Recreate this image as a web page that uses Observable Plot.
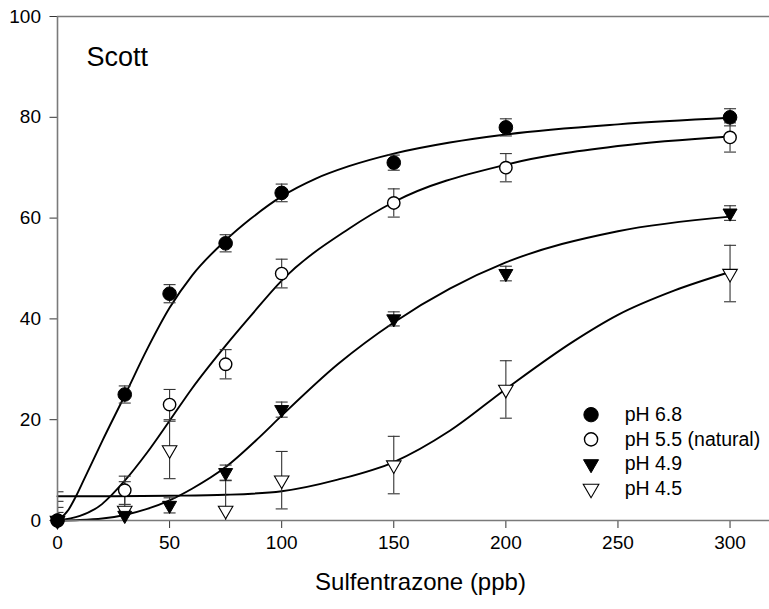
<!DOCTYPE html>
<html>
<head>
<meta charset="utf-8">
<script src="https://cdn.jsdelivr.net/npm/d3@7"></script>
<script src="https://cdn.jsdelivr.net/npm/@observablehq/plot@0.6"></script>
<style>
  html, body { margin: 0; padding: 0; background: #fff; }
  #chart { width: 769px; height: 609px; }
</style>
</head>
<body>
<div id="chart"></div>
<script>
// ---- data ----
const doses = [0, 30, 50, 75, 100, 150, 200, 300];
const seriesLabels = ["pH 6.8", "pH 5.5 (natural)", "pH 4.9", "pH 4.5"];

const ph68Mean = [0, 25, 45, 55, 65, 71, 78, 80];
const ph68Err  = [1.6, 1.7, 1.8, 1.7, 1.75, 1.5, 1.7, 1.7];
const ph55Mean = [0, 6, 23, 31, 49, 63, 70, 76];
const ph55Err  = [3.8, 2.8, 3.0, 2.9, 2.85, 2.8, 2.8, 2.9];
const ph49Mean = [0, 1, 3, 9.5, 22, 40, 49, 61];
const ph49Err  = [2.6, 1.0, 1.5, 1.5, 1.5, 1.4, 1.45, 1.45];
const ph45Mean = [0, 2, 14, 2, 8, 11, 26, 49];
const ph45Err  = [5.7, 5.7, 5.7, 5.9, 5.7, 5.7, 5.7, 5.6];

// fitted curves
const fit68X = [0, 5, 8, 12, 20, 30, 40, 50, 60, 75, 86, 100, 115, 130, 150, 175, 200, 250, 300];
const fit68Y = [0, 2.2, 4.6, 8.3, 15.8, 24.8, 34, 42.2, 48.6, 55.6, 59.8, 64.3, 67.8, 70.3, 72.8, 75, 76.6, 78.6, 79.9];
const fit55X = [0, 10, 20, 24, 30, 40, 50, 60, 75, 86, 100, 130, 150, 200, 250, 300];
const fit55Y = [0, 0.9, 3.3, 5, 7.9, 13.5, 19.8, 26.2, 34.7, 40.5, 47.6, 57.9, 63.2, 70.6, 74.3, 76.2];
const fit49X = [0, 10, 20, 30, 40, 50, 60, 75, 90, 100, 125, 150, 175, 200, 250, 300];
const fit49Y = [0, 0.1, 0.4, 1.1, 2.3, 4.0, 6.3, 10.6, 16.5, 20.8, 31, 39.3, 46, 51.2, 57.4, 60.3];
const fit45X = [0, 25, 50, 75, 100, 125, 150, 175, 200, 230, 250, 275, 300];
const fit45Y = [4.8, 4.8, 4.9, 5.1, 5.8, 8.1, 11.6, 17.8, 26.1, 35.5, 40.8, 45.6, 49.3];

const xTicks = [0, 50, 100, 150, 200, 250, 300];
const yTicks = [0, 20, 40, 60, 80, 100];
const panelTitle = "Scott";
const xTitle = "Sulfentrazone (ppb)";

// ---- build tables ----
const means = [ph68Mean, ph55Mean, ph49Mean, ph45Mean];
const errs = [ph68Err, ph55Err, ph49Err, ph45Err];
const fitsX = [fit68X, fit55X, fit49X, fit45X];
const fitsY = [fit68Y, fit55Y, fit49Y, fit45Y];

const rows = seriesLabels.flatMap((s, i) =>
  doses.map((d, j) => ({series: s, idx: i, dose: d, mean: means[i][j], err: errs[i][j]})));
const fitRows = seriesLabels.flatMap((s, i) =>
  fitsX[i].map((x, j) => ({series: s, x, y: fitsY[i][j]})));

// symbol styles per series
const styles = [
  {symbol: "circle", fill: "black", stroke: "black", r: 6.8, rotate: 0, sw: 1},
  {symbol: "circle", fill: "white", stroke: "black", r: 6.2, rotate: 0, sw: 1.4},
  {symbol: "triangle", fill: "black", stroke: "black", r: 5.2, rotate: 180, sw: 1},
  {symbol: "triangle", fill: "white", stroke: "black", r: 5.4, rotate: 180, sw: 1.1}
];

const cap = {draw(ctx) { ctx.moveTo(-6, 0); ctx.lineTo(6, 0); }};

const legendRows = seriesLabels.map((s, i) => ({series: s, idx: i, ly: 21 - i * 4.9}));

const marks = [
  Plot.ruleY([100], {stroke: "#7a7a7a", strokeWidth: 1.6}),
  Plot.axisY({ticks: yTicks, tickSize: 7.5, tickPadding: 9, fontSize: 19, label: null, stroke: "#333", color: "#000"}),
  Plot.axisX({ticks: xTicks, tickSize: 8, tickPadding: 7, fontSize: 19, label: null, stroke: "#333", color: "#000"}),
  // curves
  Plot.line(fitRows, {x: "x", y: "y", z: "series", curve: "monotone-x", stroke: "black", strokeWidth: 1.9}),
  // error bars
  Plot.ruleX(rows, {x: "dose", y1: d => d.mean - d.err, y2: d => d.mean + d.err, stroke: "#333", strokeWidth: 1.1, clip: true}),
  Plot.dot(rows, {x: "dose", y: d => d.mean + d.err, symbol: cap, fill: "none", stroke: "#333", strokeWidth: 1.1, clip: true}),
  Plot.dot(rows, {x: "dose", y: d => d.mean - d.err, symbol: cap, fill: "none", stroke: "#333", strokeWidth: 1.1, clip: true}),
  Plot.ruleX([0], {stroke: "#7a7a7a", strokeWidth: 1.6}),
  Plot.ruleY([0], {stroke: "#7a7a7a", strokeWidth: 1.6}),
];

// points per series (drawn in reverse so 6.8 is on top)
for (let i = 3; i >= 0; i--) {
  const st = styles[i];
  marks.push(Plot.dot(rows.filter(d => d.idx === i), {
    x: "dose", y: "mean", symbol: st.symbol, fill: st.fill, stroke: st.stroke,
    strokeWidth: st.sw, r: st.r, rotate: st.rotate
  }));
  marks.push(Plot.dot(legendRows.filter(d => d.idx === i), {
    x: 238, y: "ly", symbol: st.symbol, fill: st.fill, stroke: st.stroke,
    strokeWidth: st.sw, r: st.r + 0.4, rotate: st.rotate
  }));
}

marks.push(Plot.text(legendRows, {x: 253, y: "ly", text: "series", textAnchor: "start", lineAnchor: "middle", fontSize: 19.5, fill: "black"}));
marks.push(Plot.text([panelTitle], {frameAnchor: "top-left", dx: 29, dy: 49.5, lineAnchor: "bottom", textAnchor: "start", fontSize: 27, fill: "black"}));
marks.push(Plot.text([xTitle], {frameAnchor: "bottom", dx: 7, dy: 62, lineAnchor: "middle", fontSize: 24, fill: "black"}));

const chart = Plot.plot({
  width: 769,
  height: 609,
  marginLeft: 57,
  marginRight: 0,
  marginTop: 16,
  marginBottom: 89,
  style: {fontFamily: "'Liberation Sans', Arial, sans-serif", background: "white", overflow: "visible"},
  x: {domain: [0, 317.6], ticks: xTicks},
  y: {domain: [0, 100], ticks: yTicks},
  marks
});
document.getElementById("chart").appendChild(chart);
</script>
</body>
</html>
